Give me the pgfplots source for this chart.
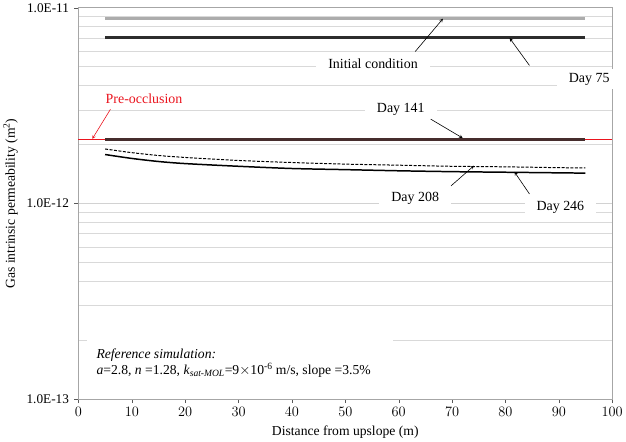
\documentclass[border=0pt]{standalone}
\usepackage{pgfplots}
\pgfplotsset{compat=1.18}
\usepackage{fontspec}
\setmainfont{Liberation Serif}
\definecolor{preocc}{RGB}{235,20,30}
\definecolor{dayfourteen}{RGB}{70,45,45}
\begin{document}
\begin{tikzpicture}
\begin{axis}[
  scale only axis, width=536pt, height=393pt,
  ymode=log, ymin=1e-13, ymax=1e-11, xmin=0, xmax=100,
  xtick={0,10,...,100},
  ytick={1e-13,1e-12,1e-11},
  yticklabels={1.0E-13,1.0E-12,1.0E-11},
  ymajorgrids, yminorgrids,
  major grid style={gray!35, line width=0.8pt},
  minor grid style={gray!30, line width=0.8pt},
  minor tick length=0pt,
  tick align=outside, major tick length=4pt,
  tick style={gray!70!black},
  xtick pos=bottom, ytick pos=left,
  axis line style={gray!70, line width=0.9pt},
  tick label style={font=\fontsize{13.3}{15}\selectfont},
  yticklabel style={xshift=-2pt},
  xticklabel style={yshift=-1pt},
  label style={font=\fontsize{13.7}{15}\selectfont},
  xlabel={Distance from upslope (m)},
  ylabel={Gas intrinsic permeability (m\textsuperscript{2})},
  xlabel style={yshift=-2pt},
  ylabel style={yshift=2pt},
  clip=false,
]
% Pre-occlusion line
\addplot[draw=preocc, line width=0.9pt] coordinates {(0,2.12e-12) (100,2.12e-12)};
% Initial condition
\addplot[gray!65, line width=3pt] coordinates {
(5,8.8e-12) (10,8.8e-12) (20,8.8e-12) (30,8.8e-12) (40,8.8e-12) (50,8.8e-12) (60,8.8e-12) (70,8.8e-12) (80,8.8e-12) (90,8.8e-12) (95,8.8e-12)};
% Day 75
\addplot[gray!35!black, line width=3.2pt] coordinates {
(5,7.05e-12) (10,7.05e-12) (20,7.05e-12) (30,7.05e-12) (40,7.05e-12) (50,7.05e-12) (60,7.05e-12) (70,7.05e-12) (80,7.05e-12) (90,7.05e-12) (95,7.05e-12)};
% Day 141
\addplot[dayfourteen, line width=3.2pt] coordinates {
(5,2.12e-12) (10,2.12e-12) (20,2.12e-12) (30,2.12e-12) (40,2.12e-12) (50,2.12e-12) (60,2.12e-12) (70,2.12e-12) (80,2.12e-12) (90,2.12e-12) (95,2.12e-12)};
% Day 208 (dashed)
\addplot[black, line width=1pt, dash pattern=on 3pt off 1.5pt, smooth] coordinates {
(5,1.90e-12) (10,1.82e-12) (15,1.76e-12) (20,1.72e-12) (30,1.66e-12) (40,1.62e-12) (50,1.59e-12) (60,1.57e-12) (70,1.55e-12) (80,1.54e-12) (90,1.525e-12) (95,1.52e-12)};
% Day 246 (solid)
\addplot[black, line width=1.5pt, smooth] coordinates {
(5,1.78e-12) (10,1.70e-12) (15,1.64e-12) (20,1.60e-12) (30,1.55e-12) (40,1.51e-12) (50,1.49e-12) (60,1.47e-12) (70,1.455e-12) (80,1.445e-12) (90,1.435e-12) (95,1.43e-12)};

\tikzset{lab/.style={fill=white, inner xsep=12pt, inner ysep=4pt, font=\fontsize{14}{16}\selectfont},
         arr/.style={-stealth, black, line width=0.6pt}}
\node[lab] at (axis cs:55.2,5.2e-12) {Initial condition};
\draw[arr] (axis cs:63.1,5.98e-12) -- (axis cs:68.3,8.8e-12);
\node[lab] at (axis cs:95.7,4.31e-12) {Day 75};
\draw[arr] (axis cs:84.5,5.08e-12) -- (axis cs:80.8,7.0e-12);
\node[lab, inner xsep=4pt, text=preocc] at (axis cs:12.3,3.45e-12) {Pre-occlusion};
\draw[-stealth, preocc, line width=0.6pt] (axis cs:6.0,3.03e-12) -- (axis cs:2.6,2.14e-12);
\node[lab] at (axis cs:60.4,3.03e-12) {Day 141};
\draw[arr] (axis cs:66.0,2.70e-12) -- (axis cs:72.0,2.16e-12);
\node[lab] at (axis cs:63.1,1.06e-12) {Day 208};
\draw[arr] (axis cs:69.8,1.23e-12) -- (axis cs:74.1,1.56e-12);
\node[lab] at (axis cs:90.3,9.55e-13) {Day 246};
\draw[arr] (axis cs:84.5,1.12e-12) -- (axis cs:81.7,1.45e-12);
\fill[white] (axis cs:1.7,1.15e-13) rectangle (axis cs:59,2.2e-13);
\node[anchor=base west, inner sep=0pt, font=\fontsize{13.7}{15.5}\selectfont] at (axis cs:3.36,1.61e-13) {\textit{Reference simulation:}};
\node[anchor=base west, inner sep=0pt, font=\fontsize{13.7}{15.5}\selectfont] at (axis cs:3.36,1.34e-13) {\textit{a}=2.8, \textit{n} =1.28, \textit{k}\textsubscript{\textit{sat-MOL}}=9${\times}$10\textsuperscript{-6} m/s, slope =3.5\%};
\end{axis}
\end{tikzpicture}
\end{document}
